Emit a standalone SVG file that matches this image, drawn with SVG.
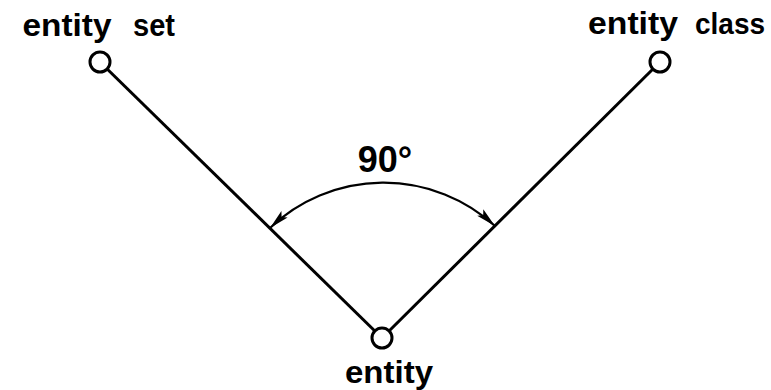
<svg xmlns="http://www.w3.org/2000/svg" width="771" height="390" viewBox="0 0 771 390">
<style>
.lbl{font-family:"Liberation Sans",Arial,sans-serif;font-weight:bold;font-size:32px;fill:#000}
.node{fill:#fff;stroke:#000;stroke-width:3}
.edge{stroke:#000;stroke-width:3;fill:none}
.arc{stroke:#000;stroke-width:2.2;fill:none}
</style>
<defs>
<marker id="ah" viewBox="0 0 20 10" refX="20" refY="5" markerWidth="20" markerHeight="10" markerUnits="userSpaceOnUse" orient="auto-start-reverse">
<path d="M0,0.5 L20,5 L0,9.5 L4,5 Z" fill="#000"/>
</marker>
</defs>
<rect width="771" height="390" fill="#fff"/>
<g id="connectors">
<line class="edge" x1="100" y1="62" x2="382" y2="338"/>
<line class="edge" x1="660" y1="62" x2="382" y2="338"/>
<path class="arc" d="M270,228 A165,165 0 0 1 495,226" marker-start="url(#ah)" marker-end="url(#ah)"/>
<text class="lbl" x="385" y="172" text-anchor="middle" style="font-size:36px">90°</text>
</g>
<g id="entity-set">
<circle class="node" cx="100" cy="62" r="10"/>
<text class="lbl" x="22.5" y="36" textLength="89" lengthAdjust="spacingAndGlyphs">entity</text>
<text class="lbl" x="133" y="36" textLength="42" lengthAdjust="spacingAndGlyphs">set</text>
</g>
<g id="entity-class">
<circle class="node" cx="660" cy="62" r="10"/>
<text class="lbl" x="588" y="34" textLength="90" lengthAdjust="spacingAndGlyphs">entity</text>
<text class="lbl" x="695" y="34" textLength="70" lengthAdjust="spacingAndGlyphs" style="font-size:30px">class</text>
</g>
<g id="entity">
<circle class="node" cx="382" cy="338" r="10"/>
<text class="lbl" x="345" y="383" textLength="88" lengthAdjust="spacingAndGlyphs">entity</text>
</g>
</svg>
